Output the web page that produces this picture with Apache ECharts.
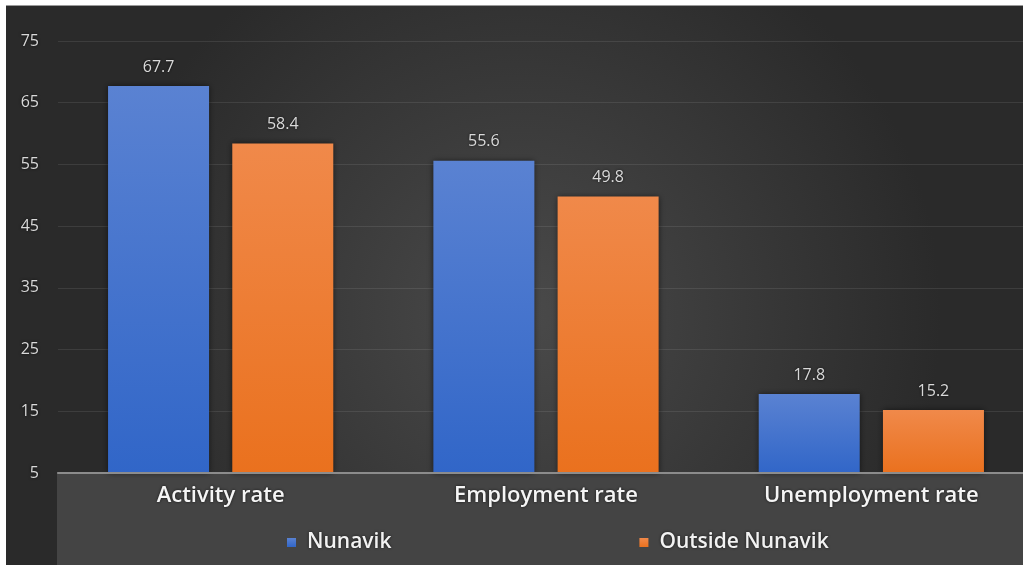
<!DOCTYPE html>
<html>
<head>
<meta charset="utf-8">
<script src="https://cdn.jsdelivr.net/npm/echarts@6/dist/echarts.min.js"></script>
<style>
html,body{margin:0;padding:0;background:#ffffff;width:1023px;height:565px;overflow:hidden;position:relative;}
#chart{position:absolute;left:6px;top:5px;width:1030px;height:560px;border-top:1px solid #9a9a9a;}
</style>
</head>
<body>
<div id="chart"></div>
<script>
const categories = ['Activity rate', 'Employment rate', 'Unemployment rate'];
const seriesNames = ['Nunavik', 'Outside Nunavik'];
const nunavik = [67.7, 55.6, 17.8];
const outsideNunavik = [58.4, 49.8, 15.2];
const yMin = 5, yMax = 75, yStep = 10;

const chart = echarts.init(document.getElementById('chart'));
const fontFam = '"Open Sans", "Noto Sans", sans-serif';
const glow = {textShadowColor: 'rgba(0,0,0,0.7)', textShadowBlur: 3};

function grad(top, bottom) {
  return {type: 'linear', x: 0, y: 0, x2: 0, y2: 1,
    colorStops: [{offset: 0, color: top}, {offset: 1, color: bottom}]};
}

chart.setOption({
  backgroundColor: {
    type: 'radial', x: 0.5, y: 0.55, r: 0.75,
    colorStops: [{offset: 0, color: '#4a4a4a'}, {offset: 1, color: '#2a2a2a'}]
  },
  textStyle: {fontFamily: fontFam},
  graphic: [{
    type: 'rect', z: 0,
    shape: {x: 51, y: 466, width: 1000, height: 100},
    style: {fill: '#444444'}
  }],
  grid: {left: 52, right: 2, top: 35, bottom: 93, containLabel: false},
  legend: {
    data: seriesNames,
    left: 276, top: 521,
    itemWidth: 9, itemHeight: 9, itemGap: 248,
    icon: 'rect',
    textStyle: Object.assign({color: '#f2f2f2', fontSize: 21, fontWeight: 600, fontFamily: fontFam, padding: [0, 0, 0, 6]}, glow)
  },
  xAxis: {
    type: 'category', data: categories,
    axisLine: {show: true, lineStyle: {color: '#8c8c8c', width: 2}},
    axisTick: {show: false},
    axisLabel: Object.assign({color: '#f5f5f5', fontSize: 22, fontWeight: 600, margin: 12, fontFamily: fontFam}, glow),
    z: 5
  },
  yAxis: {
    type: 'value', min: yMin, max: yMax, interval: yStep,
    axisLine: {show: false}, axisTick: {show: false},
    axisLabel: Object.assign({color: '#d9d9d9', fontSize: 16, margin: 19, fontFamily: fontFam}, glow),
    splitLine: {lineStyle: {color: 'rgba(255,255,255,0.09)', width: 1}}
  },
  series: [
    {
      name: seriesNames[0], type: 'bar', data: nunavik,
      barWidth: 101, barGap: '23%',
      itemStyle: {color: grad('#5a82d2', '#3166c8'), shadowColor: 'rgba(0,0,0,0.55)', shadowBlur: 6},
      label: Object.assign({show: true, position: 'top', distance: 11, color: '#d9d9d9', fontSize: 16, fontFamily: fontFam}, glow)
    },
    {
      name: seriesNames[1], type: 'bar', data: outsideNunavik,
      barWidth: 101,
      itemStyle: {color: grad('#f0894a', '#ea711e'), shadowColor: 'rgba(0,0,0,0.55)', shadowBlur: 6},
      label: Object.assign({show: true, position: 'top', distance: 11, color: '#d9d9d9', fontSize: 16, fontFamily: fontFam}, glow)
    }
  ]
});
</script>
</body>
</html>
